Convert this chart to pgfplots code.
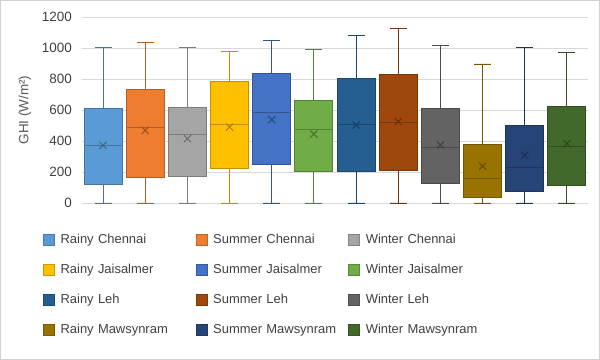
\documentclass[border=0pt]{standalone}
\usepackage{fontspec}
\setmainfont{Liberation Sans}
\usepackage{pgfplots}
\pgfplotsset{compat=1.18}
\usepgfplotslibrary{statistics}
\definecolor{c1}{HTML}{5B9BD5}
\definecolor{c2}{HTML}{ED7D31}
\definecolor{c3}{HTML}{A5A5A5}
\definecolor{c4}{HTML}{FFC000}
\definecolor{c5}{HTML}{4472C4}
\definecolor{c6}{HTML}{70AD47}
\definecolor{c7}{HTML}{255E91}
\definecolor{c8}{HTML}{9E480E}
\definecolor{c9}{HTML}{636363}
\definecolor{c10}{HTML}{997300}
\definecolor{c11}{HTML}{264478}
\definecolor{c12}{HTML}{43682B}
\definecolor{gridc}{HTML}{D9D9D9}
\definecolor{tickc}{HTML}{404040}
\definecolor{labc}{HTML}{595959}
% pos, colour, lower whisker, Q1, median, Q3, upper whisker, mean
\newcommand\bx[8]{%
\addplot[forget plot, draw=#2!75!black, fill=#2, line width=0.9bp,
  boxplot prepared={draw position=#1, lower whisker=#3, lower quartile=#4,
  median=#5, upper quartile=#6, upper whisker=#7, box extend=0.9, whisker extend=0.4}]
  coordinates {};
\addplot[forget plot, only marks, mark=x, mark size=5bp, color=#2!65!black, line width=1bp]
  coordinates {(#1,#8)};
}
\begin{document}
\begin{tikzpicture}
\fill[white] (0,0) rectangle (600bp,360bp);
\draw[gray!35, line width=1bp] (0.5bp,0.5bp) rectangle (599.5bp,359.5bp);
\begin{axis}[
  at={(82bp,157bp)}, anchor=south west,
  scale only axis, width=506bp, height=186bp,
  xmin=0.5, xmax=12.5, ymin=0, ymax=1200,
  clip=false,
  boxplot/draw direction=y,
  ytick={0,200,...,1200}, xtick=\empty,
  axis line style={draw=none},
  ymajorgrids, grid style={draw=gridc, line width=0.8bp},
  major tick length=0pt,
  /pgf/number format/assume math mode=true,
  /pgf/number format/1000 sep={},
  tick label style={font=\fontsize{13.5}{15}\selectfont, text=tickc},
  yticklabel style={inner sep=0pt, xshift=-10bp},
  ylabel={GHI (W/m²)},
  ylabel style={at={(axis description cs:-0.113,0.5)}, anchor=center, font=\fontsize{13.5}{15}\selectfont, text=labc},
  legend columns=3,
  legend cell align=left,
  legend image code/.code={\draw[#1, line width=0.6bp] (0bp,-5.5bp) rectangle (11bp,5.5bp);},
  legend style={at={(axis description cs:-0.0771,-0.153)}, anchor=north west,
    draw=none, fill=none, inner sep=0pt, outer sep=0pt, row sep=13bp,
    font=\fontsize{13}{15}\selectfont, text=tickc,
    nodes={inner sep=2bp, text height=10bp, text depth=3bp, text width=125bp},
    /tikz/every odd column/.append style={column sep=4bp},
    /tikz/every even column/.append style={column sep=8bp}},
]
\bx{1}{c1}{0}{118}{374}{613}{1006}{372}
\bx{2}{c2}{0}{168}{490}{733}{1037}{469}
\bx{3}{c3}{0}{172}{441}{619}{1006}{415}
\bx{4}{c4}{0}{224}{508}{785}{978}{490}
\bx{5}{c5}{0}{249}{581}{837}{1049}{538}
\bx{6}{c6}{0}{204}{475}{662}{989}{445}
\bx{7}{c7}{0}{202}{508}{806}{1080}{503}
\bx{8}{c8}{0}{211}{520}{830}{1129}{525}
\bx{9}{c9}{0}{125}{357}{609}{1017}{374}
\bx{10}{c10}{0}{34}{159}{378}{897}{237}
\bx{11}{c11}{0}{75}{228}{503}{1006}{308}
\bx{12}{c12}{0}{116}{368}{624}{972}{383}
\addlegendimage{fill=c1, draw=c1!80!black}\addlegendentry{Rainy Chennai}
\addlegendimage{fill=c2, draw=c2!80!black}\addlegendentry{Summer Chennai}
\addlegendimage{fill=c3, draw=c3!80!black}\addlegendentry{Winter Chennai}
\addlegendimage{fill=c4, draw=c4!80!black}\addlegendentry{Rainy Jaisalmer}
\addlegendimage{fill=c5, draw=c5!80!black}\addlegendentry{Summer Jaisalmer}
\addlegendimage{fill=c6, draw=c6!80!black}\addlegendentry{Winter Jaisalmer}
\addlegendimage{fill=c7, draw=c7!80!black}\addlegendentry{Rainy Leh}
\addlegendimage{fill=c8, draw=c8!80!black}\addlegendentry{Summer Leh}
\addlegendimage{fill=c9, draw=c9!80!black}\addlegendentry{Winter Leh}
\addlegendimage{fill=c10, draw=c10!80!black}\addlegendentry{Rainy Mawsynram}
\addlegendimage{fill=c11, draw=c11!80!black}\addlegendentry{Summer Mawsynram}
\addlegendimage{fill=c12, draw=c12!80!black}\addlegendentry{Winter Mawsynram}
\end{axis}
\end{tikzpicture}
\end{document}
